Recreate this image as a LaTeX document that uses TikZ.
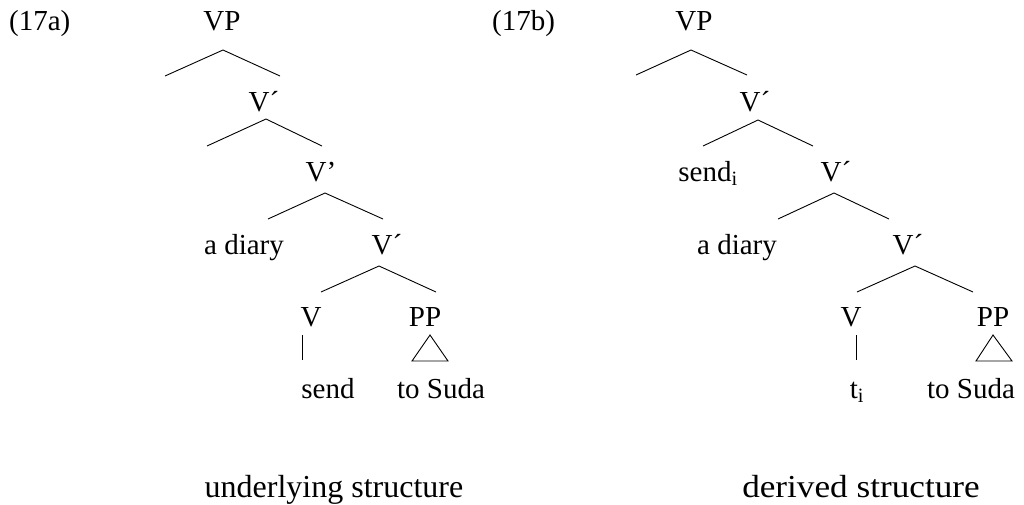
\documentclass[tikz,border=0pt]{standalone}
\usepackage{fontspec}
\setmainfont{Liberation Serif}
\begin{document}
\begin{tikzpicture}[x=1pt,y=-1pt,
  lbl/.style={font=\fontsize{29}{33}\selectfont, anchor=base, inner sep=0pt},
  captionlbl/.style={font=\fontsize{32}{36}\selectfont, anchor=base, inner sep=0pt},
  br/.style={line width=0.9pt, line join=miter}]
\useasboundingbox (0,0) rectangle (1024,504);
% ---------- (17a) ----------
\node[lbl, anchor=base west] (ta) at (9,30) {(17a)};
\node[lbl] (avp) at (222,30) {VP};
\coordinate (a1) at (223,50); \coordinate (a1l) at (165,76); \coordinate (a1r) at (280,76);
\node[lbl] (av1) at (264,111) {V´};
\coordinate (a2) at (266,119); \coordinate (a2l) at (207,146); \coordinate (a2r) at (322,146);
\node[lbl] (av2) at (321,181) {V’};
\coordinate (a3) at (325,193); \coordinate (a3l) at (268,219); \coordinate (a3r) at (383,219);
\node[lbl] (adiary) at (244,254) {a diary};
\node[lbl] (av3) at (387,254) {V´};
\coordinate (a4) at (379,266); \coordinate (a4l) at (321,292); \coordinate (a4r) at (436,292);
\node[lbl] (av) at (311,326) {V};
\node[lbl] (app) at (425,326) {PP};
\coordinate (avt) at (302,335); \coordinate (avb) at (302,360);
\coordinate (at) at (430,335); \coordinate (atl) at (412,361); \coordinate (atr) at (448,361);
\node[lbl] (asend) at (328,398) {send};
\node[lbl] (asuda) at (441,398) {to Suda};
\node[captionlbl] (acap) at (334,497) {underlying structure};
\draw[br] (a1l) -- (a1) -- (a1r);
\draw[br] (a2l) -- (a2) -- (a2r);
\draw[br] (a3l) -- (a3) -- (a3r);
\draw[br] (a4l) -- (a4) -- (a4r);
\draw[br] (avt) -- (avb);
\draw[br] (at) -- (atl) -- (atr) -- cycle;
% ---------- (17b) ----------
\node[lbl, anchor=base west] (tb) at (492,30) {(17b)};
\node[lbl] (bvp) at (694,30) {VP};
\coordinate (b1) at (691,50); \coordinate (b1l) at (636,75); \coordinate (b1r) at (747,75);
\node[lbl] (bv1) at (755,111) {V´};
\coordinate (b2) at (758,120); \coordinate (b2l) at (703,146); \coordinate (b2r) at (813,146);
\node[lbl] (bsend) at (708,181) {send\textsubscript{i}};
\node[lbl] (bv2) at (836,181) {V´};
\coordinate (b3) at (834,193); \coordinate (b3l) at (778,219); \coordinate (b3r) at (889,219);
\node[lbl] (bdiary) at (737,254) {a diary};
\node[lbl] (bv3) at (908,254) {V´};
\coordinate (b4) at (915,266); \coordinate (b4l) at (857,292); \coordinate (b4r) at (973,292);
\node[lbl] (bv) at (851,326) {V};
\node[lbl] (bpp) at (993,326) {PP};
\coordinate (bvt) at (856,335); \coordinate (bvb) at (856,360);
\coordinate (bt) at (993,335); \coordinate (btl) at (976,361); \coordinate (btr) at (1012,361);
\node[lbl] (btrace) at (857,398) {t\textsubscript{i}};
\node[lbl] (bsuda) at (971,398) {to Suda};
\node[captionlbl, xscale=1.1] (bcap) at (861,497) {derived structure};
\draw[br] (b1l) -- (b1) -- (b1r);
\draw[br] (b2l) -- (b2) -- (b2r);
\draw[br] (b3l) -- (b3) -- (b3r);
\draw[br] (b4l) -- (b4) -- (b4r);
\draw[br] (bvt) -- (bvb);
\draw[br] (bt) -- (btl) -- (btr) -- cycle;
\end{tikzpicture}
\end{document}
